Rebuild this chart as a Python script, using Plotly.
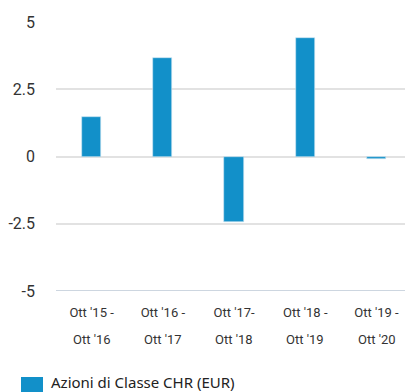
import plotly.graph_objects as go

# Rendimento annuo per periodo (%)
period_start = ["Ott '15 -", "Ott '16 -", "Ott '17-", "Ott '18 -", "Ott '19 -"]
period_end = ["Ott '16", "Ott '17", "Ott '18", "Ott '19", "Ott '20"]
returns = [1.46, 3.65, -2.43, 4.41, -0.08]
series_name = "Azioni di Classe CHR (EUR)"
y_ticks = [5, 2.5, 0, -2.5, -5]
y_tick_text = ["5", "2.5", "0", "-2.5", "-5"]

bar_color = "#1290c9"
x_font = dict(family="Roboto, Lato, sans-serif", size=13, color="#333333")
y_font = dict(family="Roboto, Lato, sans-serif", size=16, color="#333333")

plot_h = 392 - 22 - 101  # plot area height in px
plot_w = 405 - 56

positions = list(range(len(returns)))

fig = go.Figure(
    go.Bar(
        x=positions,
        y=returns,
        width=0.27,
        marker=dict(color=bar_color, line=dict(color="#cfe6f3", width=0.6)),
        name=series_name,
        showlegend=False,
        hoverinfo="skip",
    )
)

fig.update_layout(
    width=405,
    height=392,
    margin=dict(l=56, r=0, t=22, b=101),
    plot_bgcolor="white",
    paper_bgcolor="white",
    bargap=0,
    xaxis=dict(
        range=[-0.5, 4.4],
        tickmode="array",
        tickvals=positions,
        ticktext=period_start,
        tickfont=x_font,
        showgrid=False,
        zeroline=False,
        showline=False,
        ticks="",
        ticklabelstandoff=12,
        fixedrange=True,
    ),
    yaxis=dict(
        range=[-5, 5],
        tickmode="array",
        tickvals=y_ticks,
        ticktext=y_tick_text,
        tickfont=y_font,
        showgrid=True,
        gridcolor="#e2e2e2",
        gridwidth=1.5,
        zeroline=False,
        ticks="",
        ticklabelstandoff=20,
        fixedrange=True,
    ),
)

# Second line of each period label, spaced wider than a normal line break
for xv, txt in zip(positions, period_end):
    fig.add_annotation(xref="x", yref="paper", x=xv, y=-48 / plot_h, text=txt,
                       showarrow=False, xanchor="center", yanchor="middle", font=x_font)

# Bottom baseline of the plot area, slightly bluer than the grid
fig.add_shape(type="line", xref="paper", yref="y", x0=0, x1=1, y0=-5, y1=-5,
              line=dict(color="#cdd6e0", width=2), layer="above")

# Legend key drawn below the plot
fig.add_shape(type="rect", xref="paper", yref="paper",
              x0=-35 / plot_w, x1=-13 / plot_w, y0=-86 / plot_h, y1=-104 / plot_h,
              fillcolor=bar_color, line=dict(width=0))
fig.add_annotation(xref="paper", yref="paper", x=-7 / plot_w, y=-91 / plot_h,
                   text=series_name, showarrow=False, xanchor="left", yanchor="middle",
                   font=dict(family="Noto Sans, Open Sans, sans-serif", size=15, color="#222222"))

fig.write_html("out.html")
